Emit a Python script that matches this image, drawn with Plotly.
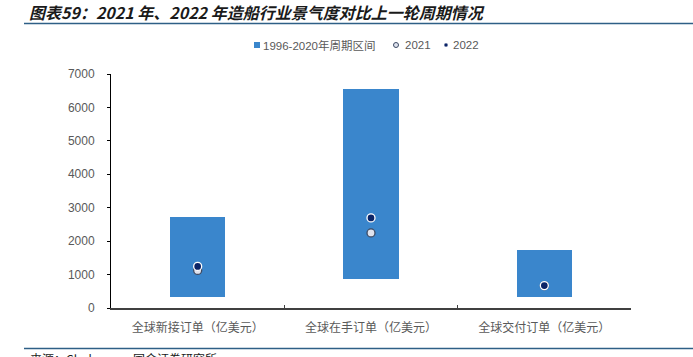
import plotly.graph_objects as go

categories = ["全球新接订单（亿美元）", "全球在手订单（亿美元）", "全球交付订单（亿美元）"]
range_low = [340, 880, 340]
range_high = [2720, 6550, 1745]
values_2021 = [1125, 2245, 665]
values_2022 = [1245, 2695, 670]
y_ticks = [0, 1000, 2000, 3000, 4000, 5000, 6000, 7000]
legend_names = ["1996-2020年周期区间", "2021", "2022"]

W, H = 693, 357
L, T = 111, 74
R = W - 631
B = H - 308
pw, ph = W - L - R, H - T - B

def px_x(p):
    return (p - L) / pw

def px_y(p):
    return (H - B - p) / ph

font_cjk = "Noto Sans CJK SC, Liberation Sans, Arial, sans-serif"
font_num = "Liberation Sans, Arial, Noto Sans CJK SC, sans-serif"
grey = "#595959"
bar_color = "#3a86cc"
c21_fill, c21_line = "#dfe3ee", "#3c4a63"
c22_fill = "#0b2467"
rule_color = "#2e5f86"

fig = go.Figure()
fig.add_trace(go.Bar(
    x=categories,
    y=[h - l for h, l in zip(range_high, range_low)],
    base=range_low,
    width=0.32,
    marker=dict(color=bar_color, line=dict(width=0)),
    name=legend_names[0],
))
fig.add_trace(go.Scatter(
    x=categories, y=values_2021, mode="markers", name=legend_names[1],
    marker=dict(size=8, color=c21_fill, line=dict(color=c21_line, width=1.3)),
))
fig.add_trace(go.Scatter(
    x=categories, y=values_2022, mode="markers", name=legend_names[2],
    marker=dict(size=8, color=c22_fill, line=dict(color="#ffffff", width=1.3)),
))

def box(cx, cy, w, h):
    return dict(x0=px_x(cx - w / 2), x1=px_x(cx + w / 2),
                y0=px_y(cy + h / 2), y1=px_y(cy - h / 2))

leg_y = 45
shapes = [
    dict(type="line", xref="paper", yref="paper", layer="above",
         x0=px_x(24), x1=px_x(693), y0=px_y(23.5), y1=px_y(23.5),
         line=dict(color=rule_color, width=1.6)),
    dict(type="line", xref="paper", yref="paper", layer="above",
         x0=px_x(24), x1=px_x(693), y0=px_y(348.5), y1=px_y(348.5),
         line=dict(color=rule_color, width=1.6)),
    dict(type="rect", xref="paper", yref="paper", fillcolor=bar_color,
         line=dict(width=0), **box(257, leg_y, 6, 6)),
    dict(type="circle", xref="paper", yref="paper", fillcolor=c21_fill,
         line=dict(color=c21_line, width=1), **box(396, leg_y, 5, 5)),
    dict(type="circle", xref="paper", yref="paper", fillcolor=c22_fill,
         line=dict(color="#ffffff", width=0.5), **box(446, leg_y, 4, 4)),
]

annotations = [
    dict(text="<b><i>图表59：2021 年、2022 年造船行业景气度对比上一轮周期情况</i></b>",
         xref="paper", yref="paper", x=px_x(28), y=px_y(11.5), xanchor="left", yanchor="middle",
         showarrow=False, font=dict(size=16, color="#1a1a1a", family=font_cjk),
         borderpad=0),
    dict(text="来源：Clarksons，国金证券研究所",
         xref="paper", yref="paper", x=px_x(28), y=px_y(348), xanchor="left", yanchor="top",
         showarrow=False, font=dict(size=12, color="#1a1a1a", family=font_cjk)),
]
for name, x0 in zip(legend_names, [261, 403, 451]):
    annotations.append(dict(text=name, xref="paper", yref="paper", x=px_x(x0), y=px_y(leg_y),
                            xanchor="left", yanchor="middle", showarrow=False,
                            font=dict(size=11.5, color=grey, family=font_num)))

fig.update_layout(
    width=W, height=H,
    margin=dict(l=L, r=R, t=T, b=B, autoexpand=False),
    paper_bgcolor="white", plot_bgcolor="white",
    font=dict(family=font_cjk, color=grey, size=11),
    showlegend=False,
    bargap=0,
    xaxis=dict(
        showline=True, linecolor="#404040", linewidth=1.5,
        ticks="inside", ticklen=3, tickcolor="#404040", tickson="boundaries",
        tickfont=dict(size=12, color=grey, family=font_cjk),
        showgrid=False, zeroline=False, fixedrange=True, ticklabelstandoff=8,
    ),
    yaxis=dict(
        range=[0, 7000], tickvals=y_ticks,
        showline=True, linecolor="#000000", linewidth=1,
        ticks="outside", ticklen=3, tickcolor="#000000",
        tickfont=dict(size=12, color=grey, family=font_num),
        showgrid=False, zeroline=False, ticklabelstandoff=10,
    ),
    shapes=shapes,
    annotations=annotations,
)

fig.write_html("out.html", config={"displayModeBar": False},
               post_script="document.body.style.margin='0';document.body.style.overflow='hidden';")
